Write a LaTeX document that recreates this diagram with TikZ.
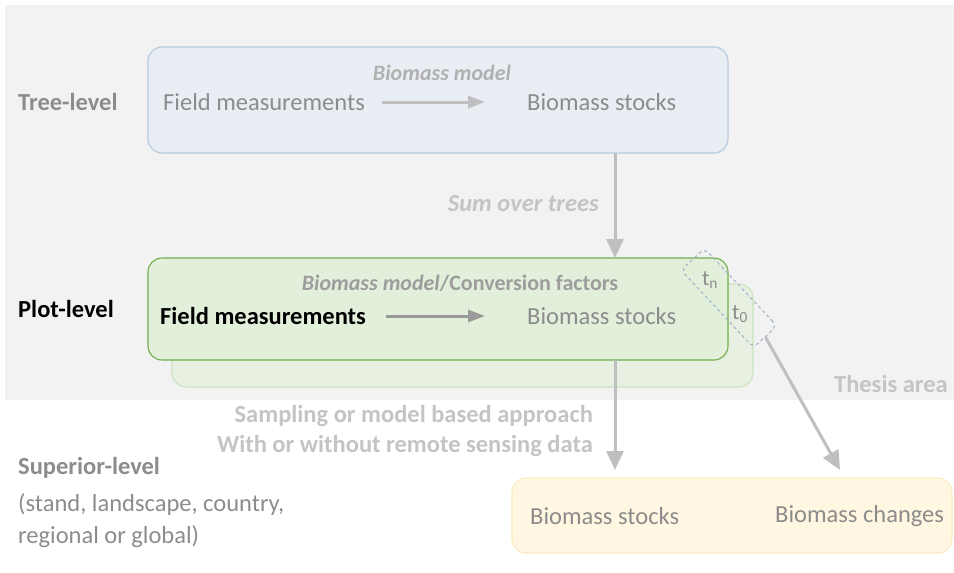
\documentclass[tikz,border=0pt]{standalone}
\usepackage{fontspec}
\setmainfont{Carlito}
\usetikzlibrary{arrows.meta,positioning,calc,backgrounds}

\definecolor{areagray}{HTML}{F2F2F2}
\definecolor{txtgray}{HTML}{8C8C8C}
\definecolor{lightgray}{HTML}{C4C4C4}
\definecolor{arrgray}{HTML}{BFBFBF}
\definecolor{treefill}{HTML}{E9EEF4}
\definecolor{treedraw}{HTML}{B7C9DC}
\definecolor{plotfill}{HTML}{E2EFDA}
\definecolor{plotdraw}{HTML}{72AE4C}
\definecolor{backdraw}{HTML}{CCE3BE}
\definecolor{backfill}{HTML}{E7F0E1}
\definecolor{supfill}{HTML}{FFF7E1}
\definecolor{supdraw}{HTML}{FBEBC0}
\definecolor{tdash}{HTML}{9DAFC8}

\begin{document}
\begin{tikzpicture}[
  x=1pt, y=-1pt,
  font=\fontsize{24.5}{30}\selectfont,
  level/.style={anchor=west, font=\fontsize{24.5}{30}\selectfont\bfseries, text=txtgray, inner sep=0pt},
  levelbox/.style={rounded corners=14pt, line width=1.1pt},
  item/.style={anchor=west, text=txtgray, inner sep=0pt},
  note/.style={font=\fontsize{24.5}{30}\selectfont\bfseries\itshape, text=lightgray},
  flow/.style={draw=arrgray, line width=3pt, -{Triangle[width=17pt,length=19pt]}},
  inflow/.style={line width=3pt, -{Triangle[width=12pt,length=17pt]}},
]
\useasboundingbox (0,0) rectangle (954,573);

% --- thesis area ---
\fill[areagray] (5,5) rectangle (954,400);
\node[font=\fontsize{24.5}{30}\selectfont\bfseries, text=lightgray, anchor=east, inner sep=0pt] (thesis) at (948,384) {Thesis area};

% --- tree level ---
\node[level] (treelvl) at (18,102) {Tree-level};
\draw[levelbox, draw=treedraw, fill=treefill] (148,47) rectangle (728,153);
\node[note, font=\fontsize{22}{26}\selectfont\bfseries\itshape, text=lightgray!90!black] (treemodel) at (442,73) {Biomass model};
\node[item] (treefield) at (163,102) {Field measurements};
\node[item] (treestock) at (527,102) {Biomass stocks};
\draw[inflow, draw=arrgray] ($(treefield.east)+(17,0)$) -- ($(treestock.west)+(-42,0)$);

% --- plot level ---
\node[level, text=black] (plotlvl) at (18,309) {Plot-level};
\draw[levelbox, draw=backdraw, fill=backfill] (172,284) rectangle (753,387);
\draw[levelbox, draw=plotdraw, fill=plotfill] (148,258) rectangle (728,360);
\node[font=\fontsize{22}{26}\selectfont\bfseries, text=txtgray!85] (plotmodel) at (460,283)
  {\textit{Biomass model}/Conversion factors};
\node[item, font=\fontsize{24.5}{30}\selectfont\bfseries, text=black] (plotfield) at (160,316) {Field measurements};
\node[item] (plotstock) at (527,316) {Biomass stocks};
\draw[inflow, draw=arrgray!80!black] ($(plotfield.east)+(20,0)$) -- ($(plotstock.west)+(-42,0)$);

% --- time steps ---
\node[text=txtgray, font=\fontsize{22}{26}\selectfont] (tn) at (710,280) {t\textsubscript{n}};
\node[text=txtgray, font=\fontsize{22}{26}\selectfont] (tzero) at (740,314) {t\textsubscript{0}};
\node[draw=tdash, dashed, line width=1pt, rounded corners=6pt, rotate=-47,
      minimum width=106pt, minimum height=32pt] (tbox) at (729,298) {};

% --- superior level ---
\node[level, text=txtgray] (suplvl) at (18,468) {Superior-level};
\node[item, anchor=north west, align=left, font=\fontsize{24.5}{32}\selectfont] (supnote) at (18,493)
  {(stand, landscape, country,\\regional or global)};
\draw[levelbox, draw=supdraw, fill=supfill] (512,478) rectangle (952,553);
\node[item] (supstock) at (530,516) {Biomass stocks};
\node[item] (supchange) at (775,516) {Biomass changes};

% --- transitions between levels ---
\coordinate (sumtop) at (615,153);
\coordinate (sumbot) at (615,258);
\draw[flow] (sumtop) -- (sumbot);
\node[note, anchor=east, inner sep=0pt] (sumlbl) at (599,204) {Sum over trees};

\coordinate (uptop) at (615,360);
\coordinate (upbot) at (615,470);
\draw[flow] (uptop) -- (upbot);
\node[font=\fontsize{24.5}{30}\selectfont\bfseries, text=lightgray, align=right, anchor=north east, inner sep=0pt] (uplbl) at (593,405)
  {Sampling or model based approach\\With or without remote sensing data};

\coordinate (chgbot) at (840,470);
\draw[flow] (tbox.east) -- (chgbot);
\end{tikzpicture}
\end{document}
